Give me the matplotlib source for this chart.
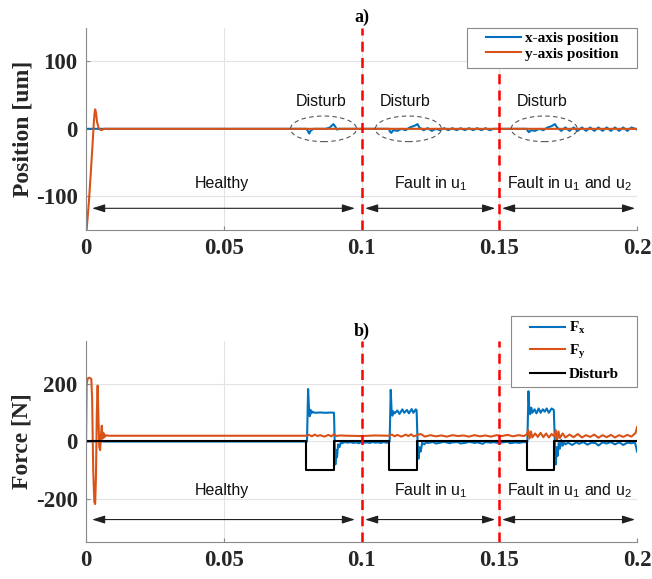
import numpy as np
import matplotlib
matplotlib.use("Agg")
import matplotlib.pyplot as plt
from matplotlib.patches import Ellipse, Rectangle

# ---- data ----
# a) position
pos_x_t = [0, 0.08, 0.0805, 0.081, 0.0815, 0.0825, 0.087, 0.0885, 0.0898, 0.0905, 0.091, 0.092,
           0.11, 0.1103, 0.1108, 0.1115, 0.113, 0.1145, 0.116, 0.1175, 0.1195, 0.1203, 0.121, 0.1225,
           0.124, 0.1255, 0.127, 0.1285, 0.130, 0.1315, 0.133, 0.1345, 0.136, 0.1375, 0.139, 0.1405,
           0.142, 0.1435, 0.145, 0.1465, 0.148, 0.150, 0.160, 0.1603, 0.1608, 0.1615, 0.163, 0.1645,
           0.166, 0.1675, 0.169, 0.1702, 0.171, 0.1725, 0.174, 0.1755, 0.177, 0.1785, 0.180, 0.1815,
           0.183, 0.1845, 0.186, 0.1875, 0.189, 0.1905, 0.192, 0.1935, 0.195, 0.1965, 0.198, 0.2]
pos_x_v = [0, 0, -3, -7, -3, 0, 0, 2, 7, 3, -1, 0,
           0, -4, -6, -2, -3, 0, -2, 2, 5, 7, 2, -2,
           1, -3, 0, -2, 1, -2, 1, -2, 1, -2, 1, -2,
           1, -2, 1, -2, 0, 0, 0, -3, -5, -2, -3, 0,
           -2, 2, 4, 7, 2, -3, 2, -3, 2, -3, 2, -3,
           2, -3, 2, -3, 2, -3, 2, -3, 2, -3, 2, -1]

pos_y_t = [0, 0.0002, 0.001, 0.0018, 0.0024, 0.0028, 0.0031, 0.0033, 0.0036, 0.0040,
           0.0045, 0.0050, 0.0056, 0.0065, 0.2]
pos_y_v = [-150, -150, -110, -60, -20, 8, 24, 29, 24, 10, 2, -1, -2, 0, 0]

# b) force
fx_t = [0, 0.08, 0.0802, 0.0806, 0.0809, 0.0812, 0.0815, 0.0818, 0.0822, 0.0830, 0.0850, 0.0870,
        0.0890, 0.0900, 0.0902, 0.0905, 0.0908, 0.0911, 0.0915, 0.0920, 0.0925, 0.0930, 0.0940,
        0.095, 0.096, 0.097, 0.098, 0.099, 0.100, 0.101, 0.102, 0.103, 0.104, 0.105, 0.106,
        0.107, 0.108, 0.109, 0.110,
        0.1102, 0.1106, 0.1109, 0.1112, 0.1115, 0.1120, 0.1130, 0.1138, 0.1148, 0.1155, 0.1165,
        0.1172, 0.1182, 0.1188, 0.1197, 0.1200, 0.1203, 0.1207, 0.1211, 0.1215, 0.1220, 0.1228, 0.1235,
        0.124, 0.126, 0.127, 0.129, 0.130, 0.132, 0.133, 0.135, 0.136, 0.138, 0.139, 0.141,
        0.142, 0.144, 0.145, 0.147, 0.148, 0.150, 0.151, 0.153, 0.154, 0.156, 0.157, 0.159, 0.160,
        0.1602, 0.1606, 0.1609, 0.1612, 0.1616, 0.1620, 0.1628, 0.1635, 0.1643, 0.1650, 0.1658,
        0.1665, 0.1672, 0.1680, 0.1690, 0.1698, 0.1701, 0.1705, 0.1709, 0.1712, 0.1716, 0.1720,
        0.1725, 0.1730, 0.1735, 0.174,
        0.175, 0.1765, 0.178, 0.179, 0.1805, 0.182, 0.1835, 0.185, 0.186, 0.1875, 0.189, 0.1905,
        0.192, 0.1935, 0.195, 0.1965, 0.198, 0.1992, 0.1997, 0.2]
fx_v = [0, 0, 0, 183, 120, 88, 110, 98, 104, 100, 101, 100,
        101, 100, 20, -80, -30, -55, -10, -20, -2, -6, -2,
        -4, -2, -5, -3, -6, -2, -4, -3, -5, -2, -4, -3,
        -5, -2, -4, -3,
        0, 180, 110, 90, 105, 98, 108, 96, 112, 100, 110,
        98, 113, 100, 112, 108, 10, -60, -20, -35, -5, -10, -2,
        -5, -2, -7, -3, -1, -6, -3, -2, -7, -4, -1, -5,
        -3, -8, -2, -4, -2, -6, -3, -1, -6, -3, -5, -2, -3,
        0, 175, 110, 95, 118, 100, 112, 98, 115, 100, 112,
        104, 115, 100, 115, 110, 20, -80, -20, -50, -5, -25,
        5, -15, -2, -10,
        -4, -12, -3, -8, -2, -11, -4, -6, -14, -3, -7, -2,
        -10, -3, -12, -4, -6, -3, -20, -35]

fy_t = [0, 0.0002, 0.0006, 0.0012, 0.0019, 0.0022, 0.0026, 0.0030, 0.0033, 0.0036, 0.0039,
        0.0042, 0.0045, 0.0048, 0.0051, 0.0054, 0.0057, 0.0060, 0.0063, 0.0067, 0.0072, 0.0080,
        0.08, 0.081, 0.082, 0.083, 0.084, 0.085, 0.0865, 0.088, 0.089, 0.090, 0.091, 0.092,
        0.095, 0.10, 0.105, 0.11, 0.111, 0.112, 0.113, 0.1145, 0.116, 0.117, 0.118, 0.119, 0.120,
        0.1215, 0.123, 0.125, 0.127, 0.129, 0.131, 0.133, 0.135, 0.137, 0.139, 0.141, 0.143,
        0.145, 0.147, 0.149, 0.151, 0.153, 0.155, 0.157, 0.159, 0.160, 0.1605, 0.161, 0.1615,
        0.162, 0.163, 0.164, 0.165, 0.166, 0.167, 0.168, 0.169, 0.170, 0.1705, 0.171, 0.1715,
        0.172, 0.173, 0.174, 0.1755, 0.177, 0.1785, 0.180, 0.1815, 0.183, 0.1845, 0.186, 0.1875,
        0.189, 0.1905, 0.192, 0.1935, 0.195, 0.1965, 0.198, 0.1995, 0.2]
fy_v = [0, 200, 220, 222, 218, 150, -100, -210, -218, -120, 100,
        195, 80, -20, -30, 20, 55, 10, 30, 15, 22, 20,
        20, 23, 18, 24, 19, 22, 17, 23, 18, 25, 19, 21,
        20, 19, 21, 20, 24, 18, 23, 17, 24, 19, 25, 18, 22,
        26, 17, 22, 18, 21, 17, 22, 19, 21, 17, 22, 18,
        21, 17, 22, 19, 23, 18, 22, 19, 25, 40, 10, 35,
        14, 28, 16, 30, 15, 28, 14, 26, 18, 40, 5, 35,
        12, 28, 14, 24, 15, 26, 14, 22, 16, 24, 13, 22,
        15, 23, 14, 22, 16, 23, 17, 30, 50]

dist_t = [0, 0.08, 0.08, 0.09, 0.09, 0.11, 0.11, 0.12, 0.12, 0.16, 0.16, 0.17, 0.17, 0.2]
dist_v = [0, 0, -100, -100, 0, 0, -100, -100, 0, 0, -100, -100, 0, 0]

fault_times = [0.1, 0.15]
disturb_centers = [0.0862, 0.117, 0.1663]
disturb_label_x = [0.0855, 0.1158, 0.1654]
regions = [(0.0022, 0.0976), (0.1013, 0.1485), (0.151, 0.1993)]
region_labels = ["Healthy", "Fault in u$_1$", "Fault in u$_1$ and u$_2$"]
region_label_x = [0.0494, 0.125, 0.1755]

xticks = [0, 0.05, 0.1, 0.15, 0.2]
xticklabels = ["0", "0.05", "0.1", "0.15", "0.2"]

BLUE = "#0072BD"
ORANGE = "#D95319"
EDGE = "#8a8a8a"

plt.rcParams["font.family"] = ["Liberation Serif", "DejaVu Serif"]
plt.rcParams["font.weight"] = "bold"
plt.rcParams["axes.unicode_minus"] = False
plt.rcParams["mathtext.default"] = "regular"

fig = plt.figure(figsize=(6.52, 5.79), dpi=100)
ax1 = fig.add_axes([0.132, 0.603, 0.845, 0.349])
ax2 = fig.add_axes([0.132, 0.064, 0.845, 0.347])


def style_axes(ax, yticks, ylabel, title):
    ax.set_xlim(0, 0.2)
    ax.set_xticks(xticks)
    ax.set_xticklabels(xticklabels)
    ax.set_yticks(yticks)
    ax.set_yticklabels([str(v) for v in yticks])
    for s in ["top", "right"]:
        ax.spines[s].set_visible(False)
    for s in ["left", "bottom"]:
        ax.spines[s].set_color(EDGE)
        ax.spines[s].set_linewidth(0.8)
    ax.tick_params(direction="in", length=3, color=EDGE, labelsize=16.5,
                   labelcolor="#262626", pad=6)
    for lab in ax.get_xticklabels() + ax.get_yticklabels():
        lab.set_fontweight("bold")
    ax.grid(True, color="#e3e3e3", lw=0.8)
    ax.set_axisbelow(True)
    ax.set_ylabel(ylabel, fontsize=17, fontweight="bold", color="#262626", labelpad=2)
    ax.set_title(title, fontsize=13, fontweight="bold", pad=4)
    for ft in fault_times:
        ax.axvline(ft, color="red", lw=1.8, ls=(0, (4, 2.5)), zorder=5)


def region_arrows(ax, y_arrow, y_text):
    for (a, b), lab, tx in zip(regions, region_labels, region_label_x):
        ax.annotate("", xy=(b, y_arrow), xytext=(a, y_arrow),
                    arrowprops=dict(arrowstyle="<|-|>,head_length=0.7,head_width=0.22",
                                    color="#202020", lw=0.8,
                                    mutation_scale=11, shrinkA=0, shrinkB=0))
        ax.text(tx, y_text, lab, ha="center", va="center", fontsize=11.5,
                family="Liberation Sans", fontweight="normal", color="#111111")


def legend_box(ax, x0, y0, x1, y1):
    ax.add_patch(Rectangle((x0, y0), x1 - x0, y1 - y0, transform=ax.transAxes,
                           facecolor="white", edgecolor=EDGE, lw=0.8,
                           zorder=6, clip_on=False))


# ---- a) position ----
ax1.plot(pos_x_t, pos_x_v, color=BLUE, lw=1.5, label="x-axis position")
ax1.plot(pos_y_t, pos_y_v, color=ORANGE, lw=1.5, label="y-axis position")
ax1.set_ylim(-150, 150)
style_axes(ax1, [-100, 0, 100], "Position [um]", "a)")
for c, lx in zip(disturb_centers, disturb_label_x):
    ax1.add_patch(Ellipse((c, 0), 0.024, 38, fill=False, ls=(0, (4, 3)),
                          lw=0.8, edgecolor="#555555", zorder=6))
    ax1.text(lx, 40, "Disturb", ha="center", va="center", fontsize=11.5,
             family="Liberation Sans", fontweight="normal", color="#111111")
region_arrows(ax1, -118, -81)
legend_box(ax1, 0.6915, 0.803, 1.0, 0.998)
leg1 = ax1.legend(loc="upper left", bbox_to_anchor=(0.7254, 0.982), fontsize=11,
                  frameon=False, handlelength=2.3, handletextpad=0.25,
                  borderaxespad=0, labelspacing=0.12, borderpad=0)
leg1.set_zorder(7)

# ---- b) force ----
ax2.plot(fx_t, fx_v, color=BLUE, lw=1.5, label="F$_x$")
ax2.plot(fy_t, fy_v, color=ORANGE, lw=1.5, label="F$_y$")
ax2.plot(dist_t, dist_v, color="black", lw=1.5, label="Disturb")
ax2.set_ylim(-350, 350)
style_axes(ax2, [-200, 0, 200], "Force [N]", "b)")
region_arrows(ax2, -272, -172)
legend_box(ax2, 0.7713, 0.7726, 1.0, 1.1259)
leg2 = ax2.legend(loc="upper left", bbox_to_anchor=(0.8058, 1.103), fontsize=11,
                  frameon=False, handlelength=2.3, handletextpad=0.25,
                  borderaxespad=0, labelspacing=0.42, borderpad=0)
leg2.set_zorder(7)

fig.savefig("out.png", dpi=100)
